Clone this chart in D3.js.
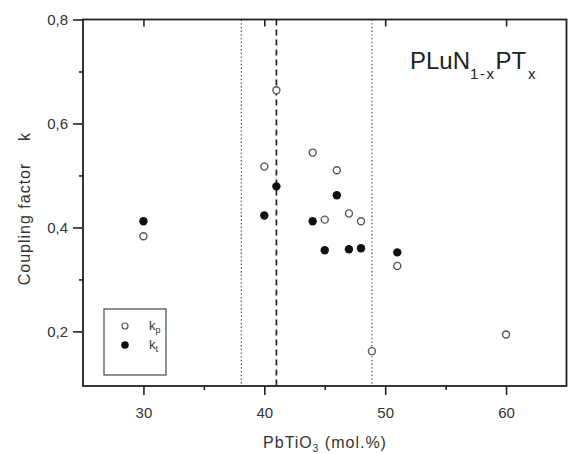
<!DOCTYPE html>
<html>
<head>
<meta charset="utf-8">
<script src="https://cdn.jsdelivr.net/npm/d3@7"></script>
<style>
  body { margin: 0; background: #fff; }
  text { font-family: "Liberation Sans", Arial, sans-serif; }
</style>
</head>
<body>
<svg id="chart" width="568" height="454"></svg>
<script>
// PbTiO3 content (mol.%) and coupling factors
const kpX = [30, 40, 41, 44, 45, 46, 47, 48, 51, 48.9, 60];
const kpY = [0.383, 0.517, 0.664, 0.544, 0.415, 0.510, 0.427, 0.412, 0.326, 0.162, 0.194];
const ktX = [30, 40, 41, 44, 45, 46, 47, 48, 51];
const ktY = [0.412, 0.423, 0.479, 0.412, 0.356, 0.462, 0.358, 0.360, 0.352];

const xTicks = [30, 40, 50, 60];
const xMinor = [35, 45, 55];
const yTicks = [0.2, 0.4, 0.6, 0.8];
const yMinor = [0.3, 0.5, 0.7];
const dottedLines = [38.1, 48.9];
const dashedLines = [41];

const svg = d3.select("#chart");
const mLeft = 83, mRight = 566.5, mTop = 19.5, mBottom = 386;
const ink = "#333";

const x = d3.scaleLinear().domain([25, 65]).range([mLeft, mRight]);
const y = d3.scaleLinear().domain([0.095, 0.8]).range([mBottom, mTop]);

const comma = d3.formatLocale({decimal: ",", thousands: ".", grouping: [3], currency: ["", ""]});
const fmtY = comma.format(".1f");

// vertical guide lines
svg.selectAll("line.dotted").data(dottedLines).enter().append("line")
  .attr("x1", d => x(d)).attr("x2", d => x(d))
  .attr("y1", mTop).attr("y2", mBottom)
  .attr("stroke", "#555").attr("stroke-width", 1.3)
  .attr("stroke-dasharray", "1.3,2.4");
svg.selectAll("line.dashed").data(dashedLines).enter().append("line")
  .attr("x1", d => x(d)).attr("x2", d => x(d))
  .attr("y1", mTop).attr("y2", mBottom)
  .attr("stroke", "#222").attr("stroke-width", 1.7)
  .attr("stroke-dasharray", "6,4");

// frame
svg.append("rect")
  .attr("x", mLeft).attr("y", mTop)
  .attr("width", mRight - mLeft).attr("height", mBottom - mTop)
  .attr("fill", "none").attr("stroke", "#222").attr("stroke-width", 1.8);

// bottom axis
svg.append("g").attr("transform", `translate(0,${mBottom})`)
  .call(d3.axisBottom(x).tickValues(xTicks).tickSize(9).tickPadding(12))
  .select(".domain").remove();
svg.append("g").attr("transform", `translate(0,${mBottom})`)
  .call(d3.axisBottom(x).tickValues(xMinor).tickSize(4).tickFormat(""))
  .select(".domain").remove();
// top ticks, inward
svg.append("g").attr("transform", `translate(0,${mTop})`)
  .call(d3.axisBottom(x).tickValues(xTicks).tickSize(7).tickFormat(""))
  .select(".domain").remove();

// left axis
svg.append("g").attr("transform", `translate(${mLeft},0)`)
  .call(d3.axisLeft(y).tickValues(yTicks).tickSize(10).tickPadding(5).tickFormat(fmtY))
  .select(".domain").remove();
svg.append("g").attr("transform", `translate(${mLeft},0)`)
  .call(d3.axisLeft(y).tickValues(yMinor).tickSize(4).tickFormat(""))
  .select(".domain").remove();

svg.selectAll(".tick line").attr("stroke", "#222").attr("stroke-width", 1.6);
svg.selectAll(".tick text").style("font-size", "15px").attr("fill", ink);

// points
const kp = kpX.map((v, i) => ({x: v, y: kpY[i]}));
const kt = ktX.map((v, i) => ({x: v, y: ktY[i]}));

svg.selectAll("circle.kt").data(kt).enter().append("circle")
  .attr("cx", d => x(d.x)).attr("cy", d => y(d.y)).attr("r", 4.2)
  .attr("fill", "#111");
svg.selectAll("circle.kp").data(kp).enter().append("circle")
  .attr("cx", d => x(d.x)).attr("cy", d => y(d.y)).attr("r", 3.5)
  .attr("fill", "#fff").attr("stroke", "#555").attr("stroke-width", 1.4);

// legend
const lg = svg.append("g");
lg.append("rect").attr("x", 104).attr("y", 309).attr("width", 62).attr("height", 66)
  .attr("fill", "none").attr("stroke", "#555").attr("stroke-width", 1.3);
lg.append("circle").attr("cx", 125).attr("cy", 326).attr("r", 3)
  .attr("fill", "#fff").attr("stroke", "#555").attr("stroke-width", 1.2);
lg.append("circle").attr("cx", 125).attr("cy", 345).attr("r", 3.8).attr("fill", "#111");
[["p", 330], ["t", 349]].forEach(([s, yy]) => {
  const t = lg.append("text").attr("x", 149).attr("y", yy)
    .style("font-size", "13px").attr("fill", ink);
  t.append("tspan").text("k");
  t.append("tspan").attr("dy", 3).style("font-size", "9px").text(s);
});

// title
const title = svg.append("text").attr("x", 410).attr("y", 69)
  .style("font-size", "24px").attr("fill", "#222");
title.append("tspan").text("PLuN");
title.append("tspan").attr("dy", 10).style("font-size", "15px")
  .style("letter-spacing", "1.5px").text("1-x");
title.append("tspan").attr("dy", -10).text("PT");
title.append("tspan").attr("dy", 10).attr("dx", 2).style("font-size", "15px").text("x");

// axis labels
const xl = svg.append("text").attr("x", 325).attr("y", 448)
  .attr("text-anchor", "middle").style("font-size", "16px")
  .style("letter-spacing", "1px").attr("fill", ink);
xl.append("tspan").text("PbTiO");
xl.append("tspan").attr("dy", 4).style("font-size", "10px").text("3");
xl.append("tspan").attr("dy", -4).text(" (mol.%)");

svg.append("text")
  .attr("transform", "translate(30,224) rotate(-90)")
  .attr("text-anchor", "middle").style("font-size", "16px")
  .style("letter-spacing", "1px").attr("fill", ink)
  .text("Coupling factor");
svg.append("text")
  .attr("transform", "translate(30,137) rotate(-90)")
  .attr("text-anchor", "middle").style("font-size", "16px").attr("fill", ink)
  .text("k");
</script>
</body>
</html>
